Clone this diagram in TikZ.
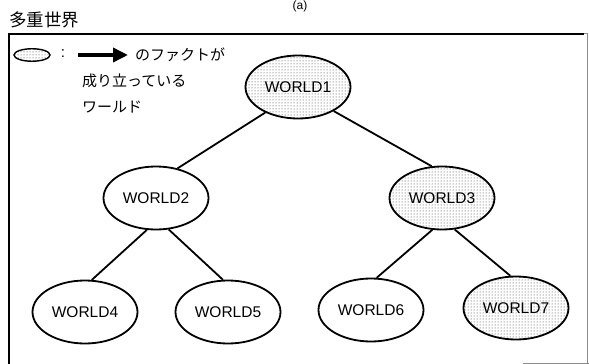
\documentclass[tikz,border=0pt]{standalone}
\usepackage{fontspec}
\setmainfont{Liberation Sans}
\newfontfamily\jpfont{Noto Sans CJK JP}
\usetikzlibrary{shapes.geometric,patterns,arrows.meta}
\begin{document}
\begin{tikzpicture}[x=1pt,y=-1pt,
  world/.style={ellipse,draw=black,line width=1.8pt,inner sep=0pt,
    minimum width=105pt,minimum height=63pt,font=\fontsize{15.5}{16}\selectfont},
  fact/.style={world,preaction={fill=white},pattern=dots,pattern color=black!80},
  edge/.style={line width=1.8pt},
  jp/.style={font=\jpfont\fontsize{15}{16}\selectfont,inner sep=0pt,anchor=west}]
\useasboundingbox (0,0) rectangle (589,364);
% title and label
\node[font=\fontsize{12}{13}\selectfont,inner sep=0pt] (lab) at (300,6) {(a)};
\node[font=\jpfont\fontsize{17.5}{18}\selectfont,inner sep=0pt,anchor=west] (title) at (9,20) {多重世界};
% frame
\draw[line width=2pt] (8.5,366) -- (8.5,33.5) -- (584,33.5);
\draw[line width=0.6pt,black!45] (584,33.5) -- (587,33.5) -- (587,366);
\draw[line width=1pt,black!45] (523,363) -- (589,363);
% legend
\node[ellipse,draw=black,line width=1.4pt,inner sep=0pt,minimum width=36pt,minimum height=12.5pt,
  preaction={fill=white},pattern=dots,pattern color=black!80] (leg) at (32,55) {};
\node[font=\fontsize{15}{16}\selectfont,inner sep=0pt] (colon) at (63,54) {:};
\coordinate (a1) at (78,55);
\coordinate (a2) at (128,55);
\draw[line width=3.5pt,-{Triangle[length=15pt,width=14pt]}] (a1) -- (a2);
\node[jp] (t1) at (135,55) {のファクトが};
\node[jp] (t2) at (82,81) {成り立っている};
\node[jp] (t3) at (82,107) {ワールド};
% worlds
\node[fact] (w1) at (298,87) {WORLD1};
\node[world] (w2) at (156,198) {WORLD2};
\node[fact] (w3) at (442,198) {WORLD3};
\node[world] (w4) at (85,312) {WORLD4};
\node[world] (w5) at (228,312) {WORLD5};
\node[world] (w6) at (371,310) {WORLD6};
\node[fact] (w7) at (516,308) {WORLD7};
% edges
\draw[edge] (w1.218) -- (w2.54);
\draw[edge] (w1.326) -- (w3.108);
\draw[edge] (w2.254) -- (w4.78);
\draw[edge] (w2.292) -- (w5.99);
\draw[edge] (w3.253) -- (w6.80);
\draw[edge] (w3.292) -- (w7.100);
\end{tikzpicture}
\end{document}
